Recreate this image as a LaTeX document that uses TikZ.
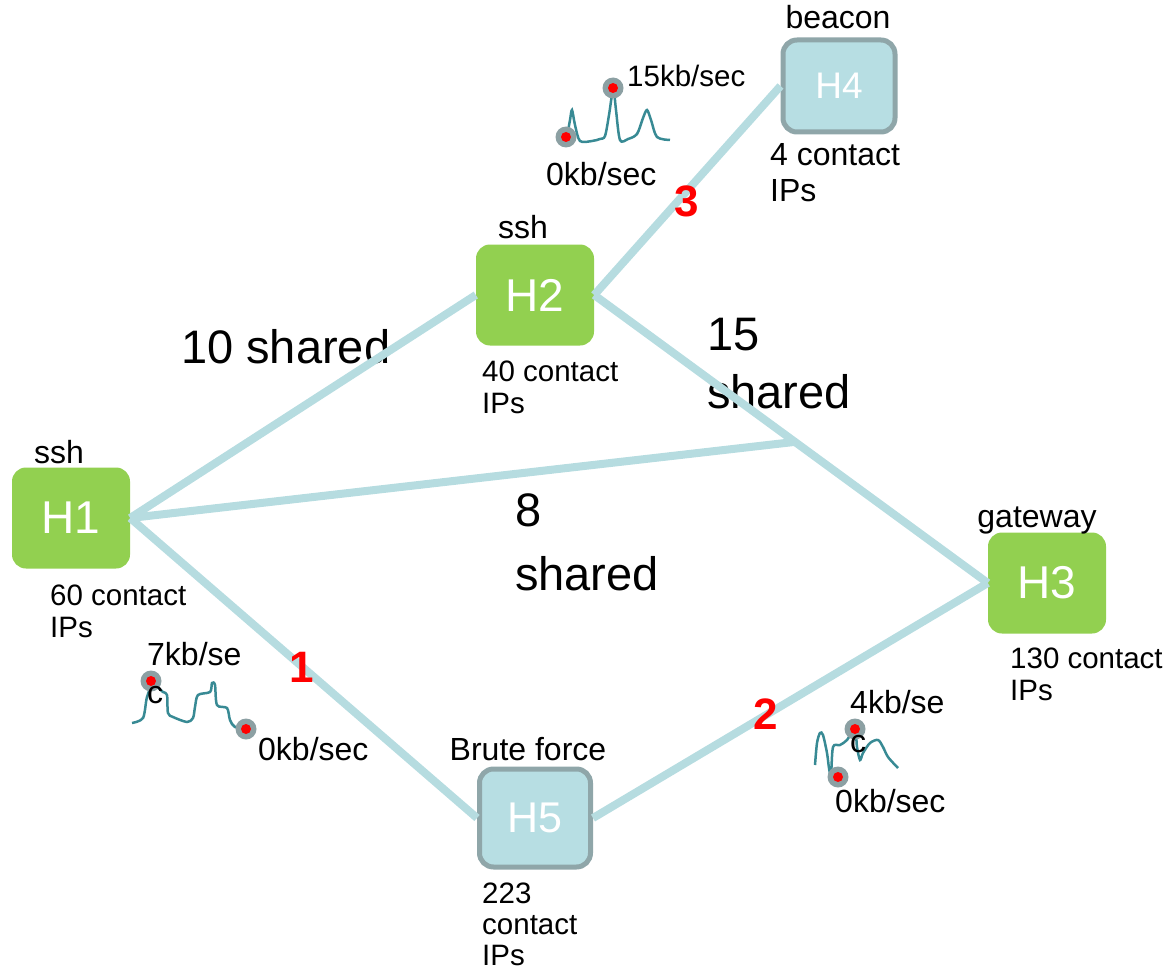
\documentclass[tikz,border=0pt]{standalone}
\usepackage{fontspec}
\setmainfont{Liberation Sans}
\usetikzlibrary{calc}
\definecolor{hgreen}{RGB}{146,208,80}
\definecolor{hblue}{RGB}{183,222,227}
\definecolor{hborder}{RGB}{143,166,169}
\definecolor{edgec}{RGB}{182,220,224}
\definecolor{sparkc}{RGB}{56,138,148}
\definecolor{dotgray}{RGB}{140,160,163}
\tikzset{
  greenhost/.style={rectangle, rounded corners=14pt, fill=hgreen, draw=none, text=white,
    minimum width=118pt, minimum height=101pt, inner sep=0pt, font=\fontsize{46}{46}\selectfont},
  bluehost/.style={rectangle, rounded corners=14pt, fill=hblue, draw=hborder, line width=5pt, text=white,
    minimum width=111pt, minimum height=98pt, inner sep=0pt, font=\fontsize{43}{43}\selectfont},
  edge/.style={draw=edgec, line width=8pt},
  small/.style={anchor=base west, inner sep=0pt, font=\fontsize{29.5}{29.5}\selectfont},
  kb/.style={anchor=base west, inner sep=0pt, font=\fontsize{32}{32}\selectfont},
  smallc/.style={anchor=base, inner sep=0pt, font=\fontsize{32}{32}\selectfont},
  big/.style={anchor=base west, inner sep=0pt, font=\fontsize{47}{47}\selectfont},
  rednum/.style={anchor=base, inner sep=0pt, text=red, font=\fontsize{44}{44}\selectfont\bfseries},
  spark/.style={draw=sparkc, line width=2.5pt, smooth, tension=0.5},
  dotouter/.style={circle, fill=dotgray, minimum size=21pt, inner sep=0pt},
  dotinner/.style={circle, fill=red, minimum size=10pt, inner sep=0pt}
}
\begin{document}
\begin{tikzpicture}[x=1pt,y=-1pt]
\useasboundingbox (0,0) rectangle (1167,979);
% hosts
\node[greenhost] (H1) at (71,518) {H1};
\node[greenhost] (H2) at (535,295) {H2};
\node[greenhost] (H3) at (1047,583) {H3};
\node[bluehost, font=\fontsize{37}{37}\selectfont, minimum width=112pt, minimum height=92pt] (H4) at (839,86) {H4};
\node[bluehost] (H5) at (535,818) {H5};
% host labels
\node[smallc] (l1) at (59,463) {ssh};
\node[smallc] (l2) at (523,238) {ssh};
\node[smallc] (l4) at (838,29) {beacon};
\node[smallc] (l3) at (1037,527) {gateway};
\node[smallc] (l5) at (528,760) {Brute force};
% contact IPs
\node[small] (c2a) at (482,381) {40 contact};
\node[small] (c2b) at (482,413) {IPs};
\node[small] (c1a) at (50,605) {60 contact};
\node[small] (c1b) at (50,637) {IPs};
\node[small] (c3a) at (1010,668) {130 contact};
\node[small] (c3b) at (1010,700) {IPs};
\node[kb] (c4a) at (770,165) {4 contact};
\node[kb] (c4b) at (770,201) {IPs};
\node[small] (c5a) at (482,903) {223};
\node[small] (c5b) at (482,934) {contact};
\node[small] (c5c) at (482,965) {IPs};
% shared labels
\node[big] (s10) at (181,363) {10 shared};
\node[big] (s15a) at (707,350) {15};
\node[big] (s15b) at (707,408) {shared};
\node[big] (s8a) at (515,526) {8};
\node[big] (s8b) at (515,590) {shared};
% edges
\coordinate (J) at ($(H2.east)!0.51!(H3.west)$);
\draw[edge] (H1.east) -- (H2.west);
\draw[edge] (H2.east) -- (H4.west);
\draw[edge] (H2.east) -- (H3.west);
\draw[edge] (H1.east) -- (J);
\draw[edge] (H1.east) -- (H5.west);
\draw[edge] (H5.east) -- (H3.west);
% red numbers
\node[rednum] (n1) at (302,682) {1};
\node[rednum] (n2) at (766,729) {2};
\node[rednum] (n3) at (687,216) {3};
% sparkline 1 (top)
\draw[spark] plot coordinates {(567,137) (570,120) (572,110) (575,125) (580,141) (592,141) (600,139) (605,136) (609,115) (612,95) (614,92) (616,110) (620,140) (628,139) (637,134) (643,118) (647,110) (651,120) (657,137) (670,140)};
\node[dotouter] (d1a) at (566,137) {};
\node[dotinner] at (d1a) {};
\node[dotouter] (d1b) at (613,88) {};
\node[dotinner] at (d1b) {};
\node[small] (k1a) at (627,87) {15kb/sec};
\node[kb] (k1b) at (546,185) {0kb/sec};
% sparkline 2 (left)
\draw[spark] plot coordinates {(132,723) (143,718) (147,697) (153,685) (163,692) (167,695) (168,713) (173,717) (187,722) (193,718) (195,707) (198,695) (210,692) (212,683) (215,685) (217,705) (227,708) (230,720) (235,727) (247,729)};
\node[dotouter] (d2a) at (151,681) {};
\node[dotinner] at (d2a) {};
\node[dotouter] (d2b) at (246,729) {};
\node[dotinner] at (d2b) {};
\node[kb] (k2a) at (147,665) {7kb/se};
\node[kb] (k2b) at (147,703) {c};
\node[kb] (k2c) at (258,760) {0kb/sec};
% sparkline 3 (right)
\draw[spark] plot coordinates {(815,765) (817,743) (820,733) (823,735) (827,753) (829,768) (831,775) (833,747) (840,745) (847,740) (855,729) (857,747) (860,760) (863,753) (870,743) (878,740) (883,747) (888,757) (898,768)};
\node[dotouter] (d3a) at (855,729) {};
\node[dotinner] at (d3a) {};
\node[dotouter] (d3b) at (838,777) {};
\node[dotinner] at (d3b) {};
\node[kb] (k3a) at (850,713) {4kb/se};
\node[kb] (k3b) at (850,752) {c};
\node[kb] (k3c) at (835,812) {0kb/sec};
\end{tikzpicture}
\end{document}
